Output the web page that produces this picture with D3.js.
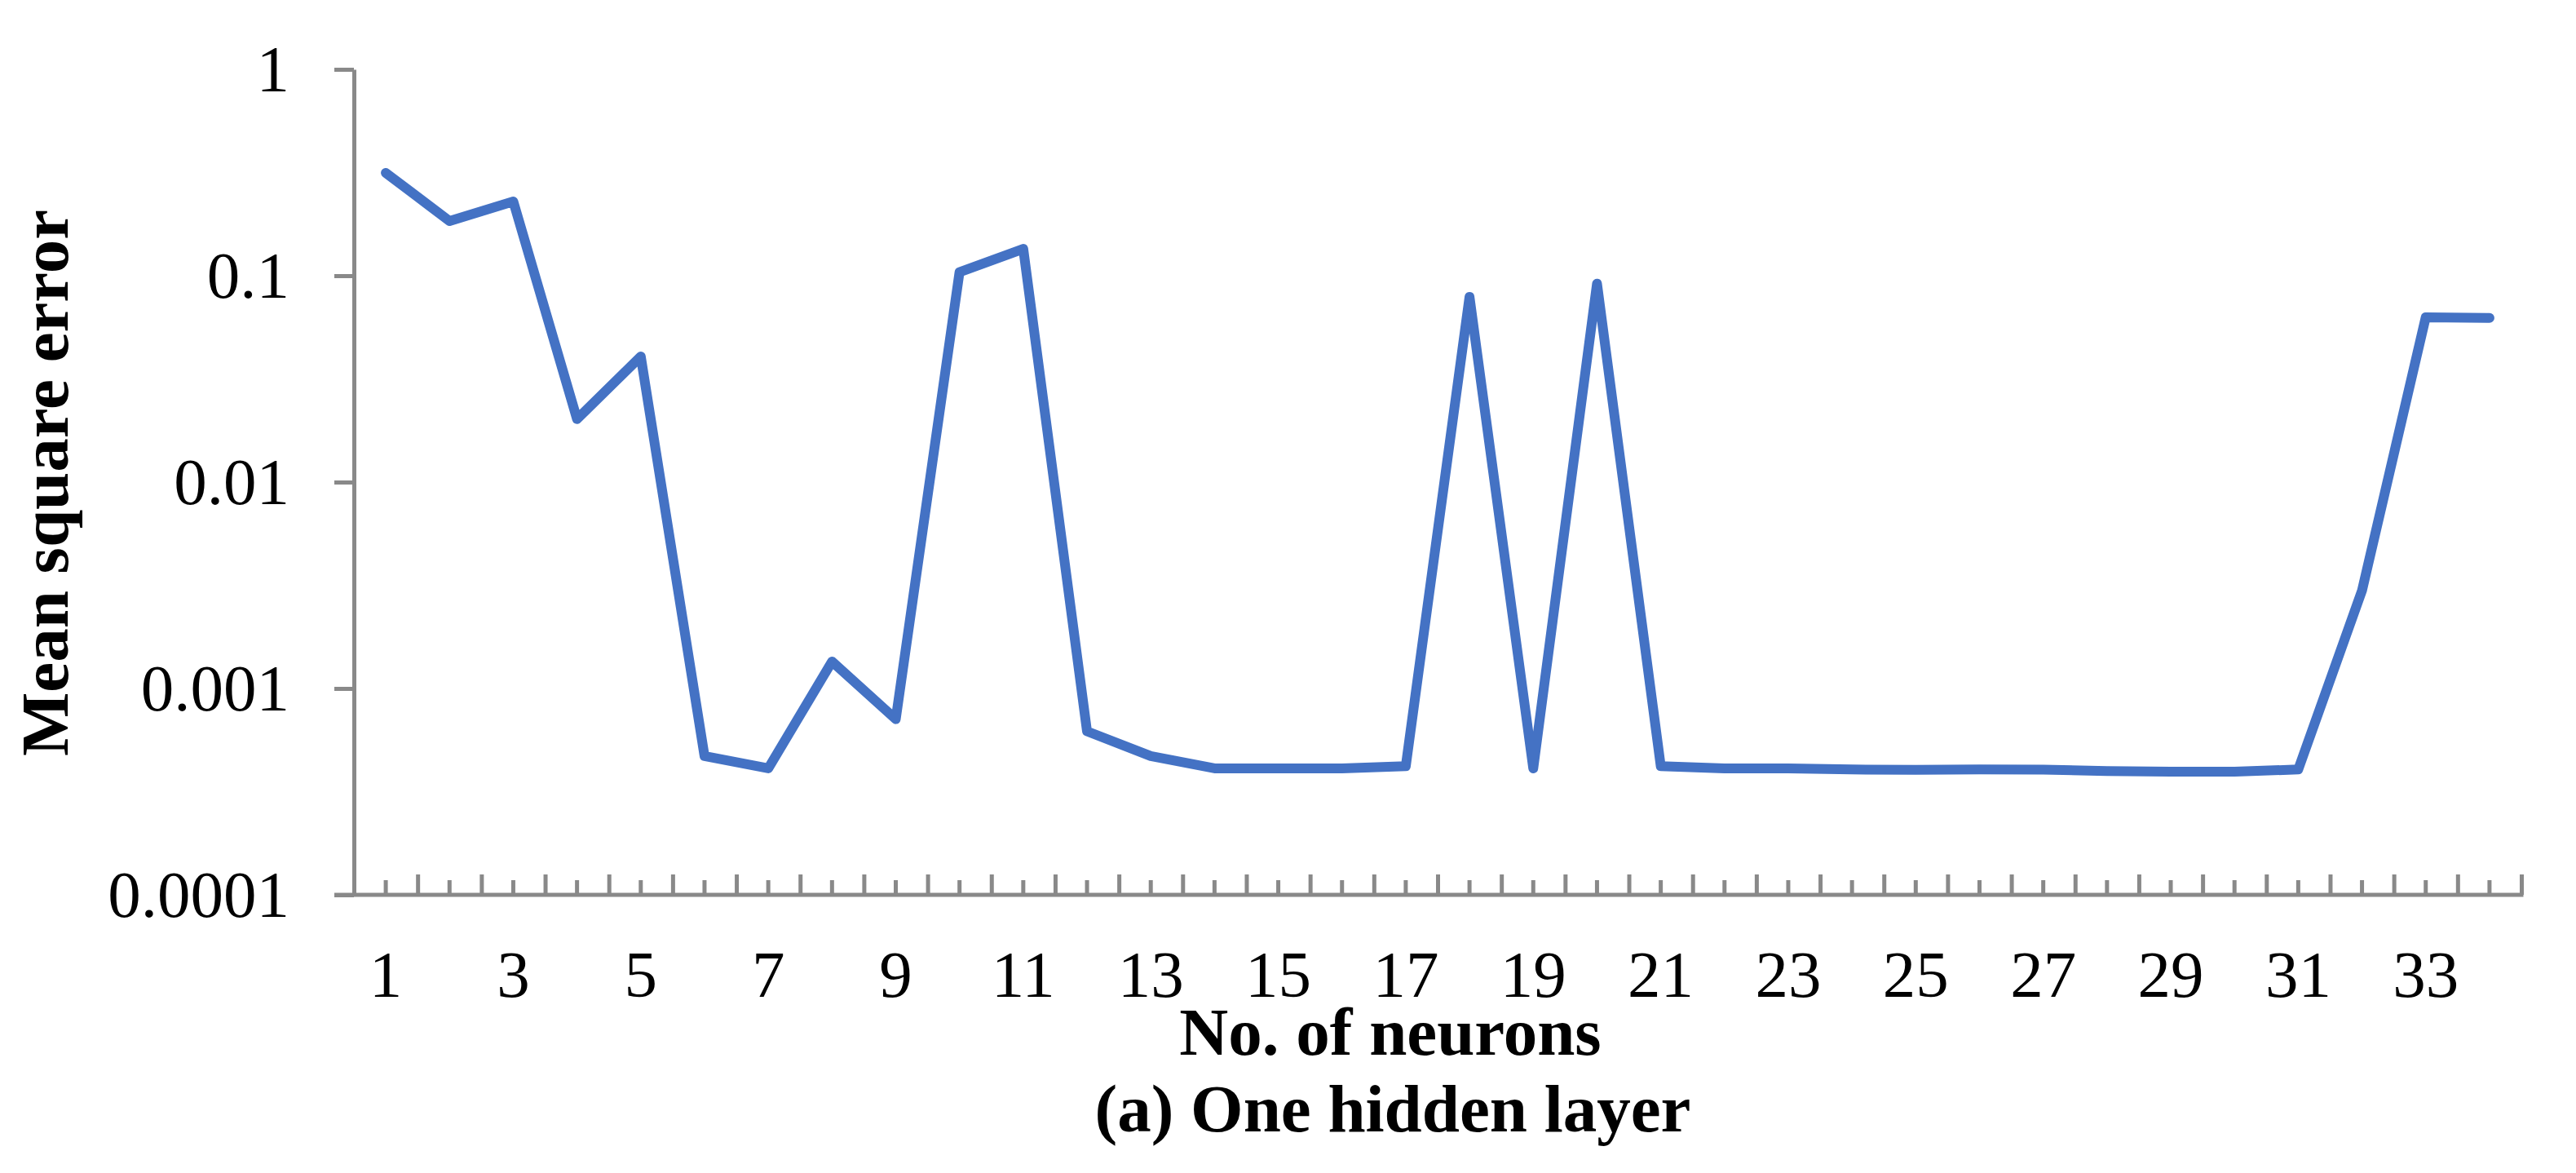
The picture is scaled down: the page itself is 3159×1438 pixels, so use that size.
<!DOCTYPE html>
<html>
<head>
<meta charset="utf-8">
<script src="https://cdn.jsdelivr.net/npm/d3@7"></script>
<style>
  html, body { margin: 0; padding: 0; background: #ffffff; }
  text { font-family: "Liberation Serif", "Times New Roman", serif; fill: #000; }
</style>
</head>
<body>
<svg id="myCanvas"></svg>
<script>
// neurons in the hidden layer
let neurons = d3.range(1, 35);

// mean square error per neuron count
let mse = [0.315, 0.184, 0.229, 0.0202, 0.0406, 0.00047, 0.00041, 0.00135, 0.00071, 0.104,
           0.135, 0.00062, 0.00047, 0.00041, 0.00041, 0.00041, 0.00042, 0.079, 0.00041, 0.0916,
           0.00042, 0.00041, 0.00041, 0.000405, 0.000403, 0.000405, 0.000404, 0.000398, 0.000395, 0.000395,
           0.000405, 0.00298, 0.0629, 0.0624];

let yTicks = [0.0001, 0.001, 0.01, 0.1, 1];
let yTickLabels = ['0.0001', '0.001', '0.01', '0.1', '1'];
let xTickLabels = neurons.filter((n) => n % 2 === 1);

let chartWidth = 3159;
let chartHeight = 1438;
let plotLeft = 434, plotRight = 3092, plotTop = 85, plotBottom = 1097;
let axisColor = '#898989';

let canvas = d3.select('#myCanvas')
               .attr('width', chartWidth)
               .attr('height', chartHeight);

let xScale = d3.scaleBand()
               .domain(neurons)
               .range([plotLeft, plotRight])
               .padding(0);

// boundaries between categories, for the tall tick marks
let edgeScale = d3.scaleLinear()
                  .domain([0, neurons.length])
                  .range([plotLeft, plotRight]);

let yScale = d3.scaleLog()
               .domain([0.0001, 1])
               .range([plotBottom, plotTop]);

let xPos = (n) => xScale(n) + xScale.bandwidth() / 2;

// y axis
let yAxis = d3.axisLeft(yScale)
              .tickValues(yTicks)
              .tickSize(24)
              .tickSizeOuter(0)
              .tickPadding(55)
              .tickFormat((d, i) => yTickLabels[i]);

let yG = canvas.append('g')
               .attr('transform', 'translate(' + plotLeft + ',0)')
               .call(yAxis);

yG.select('.domain').attr('stroke', axisColor).attr('stroke-width', 5);
yG.selectAll('.tick line').attr('stroke', axisColor).attr('stroke-width', 5);
yG.selectAll('.tick text')
  .attr('font-size', 81)
  .attr('dy', '0.33em')
  .style('font-family', '"Liberation Serif", "Times New Roman", serif');

// x axis: short ticks on categories, tall ticks on boundaries
let xTickG = canvas.append('g')
                   .attr('transform', 'translate(0,' + plotBottom + ')')
                   .call(d3.axisBottom(xScale).tickSize(-18).tickSizeOuter(0).tickFormat(''));

xTickG.select('.domain').remove();
xTickG.selectAll('.tick line').attr('stroke', axisColor).attr('stroke-width', 5);

let edgeG = canvas.append('g')
                  .attr('transform', 'translate(0,' + plotBottom + ')')
                  .call(d3.axisBottom(edgeScale).tickValues(d3.range(0, neurons.length + 1)).tickSize(-25).tickSizeOuter(0).tickFormat(''));

edgeG.select('.domain').remove();
edgeG.selectAll('.tick line').attr('stroke', axisColor).attr('stroke-width', 5);

canvas.append('line')
      .attr('x1', plotLeft - 24)
      .attr('x2', plotRight + 2.5)
      .attr('y1', plotBottom)
      .attr('y2', plotBottom)
      .attr('stroke', axisColor)
      .attr('stroke-width', 5);

canvas.append('g')
      .selectAll('text')
      .data(xTickLabels)
      .enter()
      .append('text')
      .attr('x', (n) => xPos(n))
      .attr('y', plotBottom + 125)
      .attr('text-anchor', 'middle')
      .attr('font-size', 81)
      .text((n) => n);

// the line
let line = d3.line()
             .x((d, i) => xPos(neurons[i]))
             .y((d) => yScale(d));

canvas.append('path')
      .datum(mse)
      .attr('d', line)
      .attr('fill', 'none')
      .attr('stroke', '#4472C4')
      .attr('stroke-width', 12)
      .attr('stroke-linejoin', 'round')
      .attr('stroke-linecap', 'round');

// titles
canvas.append('text')
      .attr('x', 1705)
      .attr('y', 1293)
      .attr('text-anchor', 'middle')
      .attr('font-size', 83)
      .attr('font-weight', 'bold')
      .text('No. of neurons');

canvas.append('text')
      .attr('x', 1708)
      .attr('y', 1387)
      .attr('text-anchor', 'middle')
      .attr('font-size', 83)
      .attr('font-weight', 'bold')
      .text('(a) One hidden layer');

canvas.append('text')
      .attr('transform', 'translate(83,592) rotate(-90)')
      .attr('text-anchor', 'middle')
      .attr('font-size', 83)
      .attr('font-weight', 'bold')
      .text('Mean square error');
</script>
</body>
</html>
